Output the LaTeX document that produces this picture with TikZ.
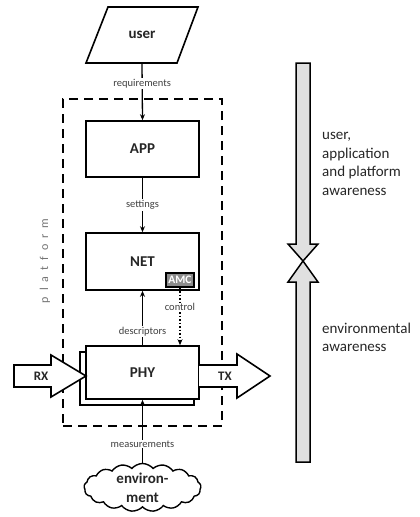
\documentclass[tikz,border=0pt]{standalone}
\usepackage{fontspec}
\setmainfont{Carlito}
\usetikzlibrary{shapes.symbols,arrows.meta}
\begin{document}
\begin{tikzpicture}[x=1pt,y=-1pt,
  blk/.style={draw,line width=1.6pt,fill=white,minimum width=113pt,minimum height=56pt,inner sep=0pt,font=\fontsize{15}{18}\selectfont\bfseries,text=black!85},
  lbl/.style={fill=white,inner sep=1pt,font=\fontsize{10.5}{12}\selectfont,text=black!75},
  conn/.style={line width=1.3pt,-{Stealth[length=6pt,width=5pt]}},
  bigarrow/.style={draw,line width=1.5pt,fill=black!12,line join=miter},
  blockarr/.style={draw,line width=1.6pt,fill=white,line join=miter},
  side/.style={align=left,anchor=west,font=\fontsize{15}{18.5}\selectfont,text=black!85,inner sep=0pt},
  boldtxt/.style={font=\fontsize{15}{19}\selectfont\bfseries,text=black!85,inner sep=0pt,align=center}]
\useasboundingbox (0,0) rectangle (420,517);

% platform frame
\node[draw,line width=1.8pt,dash pattern=on 9pt off 6pt,minimum width=159pt,minimum height=327pt,inner sep=0pt] (platform) at (142.5,262.5) {};
\node[rotate=90,text=black!55,font=\fontsize{12}{14}\selectfont,inner sep=0pt] (plab) at (45,261)
  {p\hspace{6pt}l\hspace{6pt}a\hspace{6pt}t\hspace{6pt}f\hspace{6pt}o\hspace{6pt}r\hspace{6pt}m};

% user
\draw[line width=1.6pt,line join=miter,fill=white] (86,63)--(108,7)--(198,7)--(177,63)--cycle;
\node[boldtxt,minimum width=90pt,minimum height=56pt] (user) at (142,35) {user};

% boxes
\node[blk] (app) at (142.5,149) {APP};
\node[blk,minimum height=57pt] (net) at (142.5,261.5) {NET};
\node[draw,line width=1.4pt,fill=black!45,text=white,font=\fontsize{11.5}{13}\selectfont\bfseries,minimum width=28pt,minimum height=14pt,inner sep=0pt] (amc) at (180,280) {AMC};
\node[blk,minimum width=114pt,minimum height=53pt] (phyb) at (137,378.5) {};
\node[blk,minimum height=53pt] (phy) at (142.5,372.5) {PHY};

% environment
\node[cloud,cloud puffs=17,cloud puff arc=100,cloud ignores aspect,draw,line width=1.4pt,fill=white,minimum width=117pt,minimum height=48pt,inner sep=0pt] (env) at (142.5,487.5) {};
\node[boldtxt] (envtxt) at (env.center) {environ-\\ment};

% connectors
\draw[conn] (user.south) -- (app.north) node[lbl,pos=0.36] {requirements};
\draw[conn] (app.south) -- (net.north) node[lbl,midway] {settings};
\draw[conn] (phy.north) -- (net.south) node[lbl,pos=0.25] {descriptors};
\draw[line width=1.5pt,dash pattern=on 1.5pt off 2pt,-{Stealth[length=6pt,width=5pt]}] (amc.south) -- (amc.south |- phy.north) node[lbl,pos=0.34] {control};
\draw[conn] (env.north) -- (phy.south) node[lbl,pos=0.3] {measurements};

% RX / TX block arrows
\draw[blockarr] (14,365)--(51,365)--(51,355)--(86,376)--(51,397)--(51,387)--(14,387)--cycle;
\node[font=\fontsize{13}{15}\selectfont\bfseries,text=black!85,inner sep=0pt] (rx) at (41,376) {RX};
\draw[blockarr] (199,365)--(237,365)--(237,354)--(270,376)--(237,398)--(237,387)--(199,387);
\node[font=\fontsize{13}{15}\selectfont\bfseries,text=black!85,inner sep=0pt] (tx) at (225,376) {TX};

% awareness arrows
\draw[bigarrow] (296,63)--(310,63)--(310,244)--(318,244)--(303,261)--(288,244)--(296,244)--cycle;
\draw[bigarrow] (296,462)--(310,462)--(310,282)--(318,282)--(303,261)--(288,282)--(296,282)--cycle;
\node[side] (t1) at (322,164) {user,\\application\\and platform\\awareness};
\node[side] (t2) at (322,337.5) {environmental\\awareness};
\end{tikzpicture}
\end{document}
